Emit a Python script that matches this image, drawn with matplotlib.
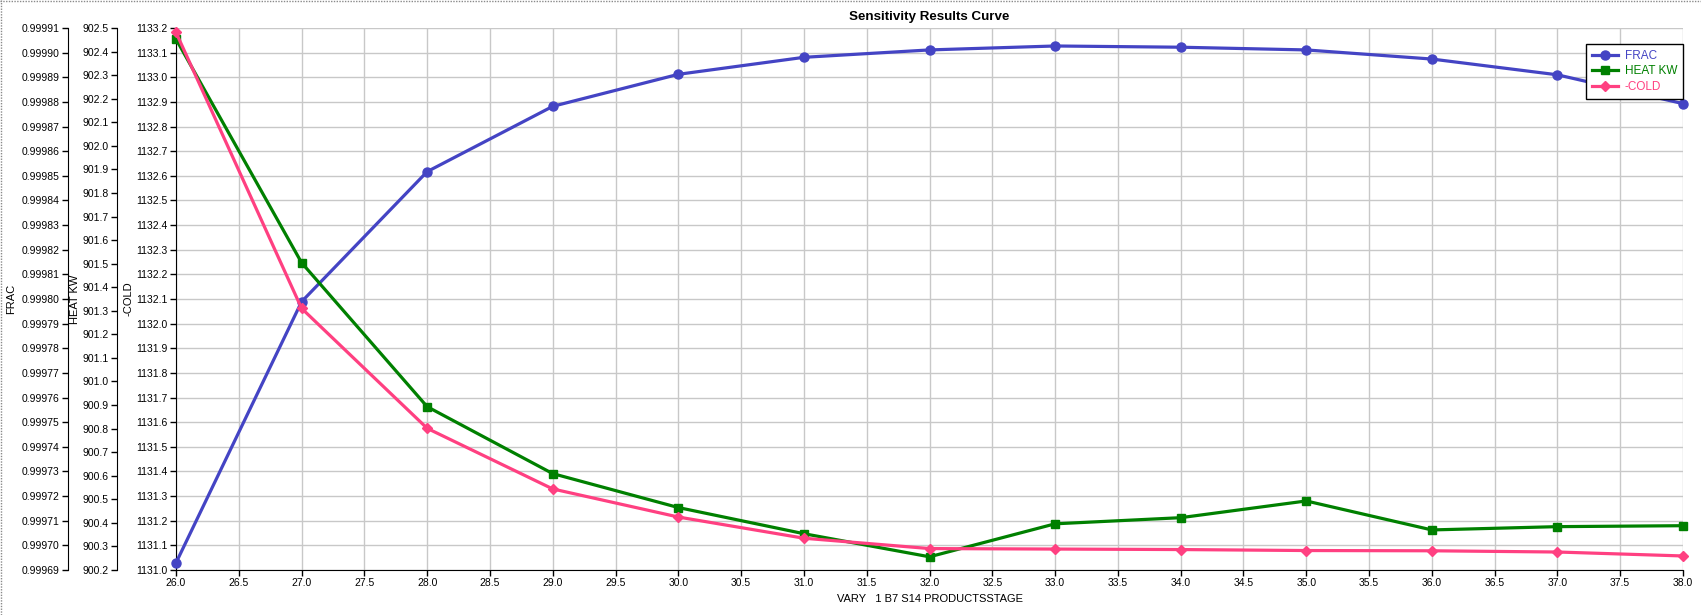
import numpy as np
import matplotlib
matplotlib.use('Agg')
import matplotlib.pyplot as plt
from matplotlib.lines import Line2D
from matplotlib.ticker import FormatStrFormatter

stage = [26, 27, 28, 29, 30, 31, 32, 33, 34, 35, 36, 37, 38]
frac = [0.9996929, 0.9997989, 0.9998517, 0.9998782, 0.9998912, 0.9998981, 0.9999011,
        0.9999027, 0.9999022, 0.9999011, 0.9998974, 0.9998910, 0.9998793]
heat_kw = [902.453, 901.504, 900.893, 900.609, 900.465, 900.354, 900.256,
           900.396, 900.422, 900.493, 900.370, 900.384, 900.388]
cold = [1133.182, 1132.062, 1131.575, 1131.329, 1131.215, 1131.129, 1131.087,
        1131.085, 1131.083, 1131.079, 1131.078, 1131.073, 1131.057]

plt.rcParams['font.family'] = ['Liberation Sans', 'DejaVu Sans']
plt.rcParams['font.size'] = 8

W, H = 1701, 615
left, right, top, bottom = 176, 1683, 28, 570
pw = right - left
fig = plt.figure(figsize=(W / 100, H / 100), dpi=100)
ax = fig.add_axes([left / W, 1 - bottom / H, pw / W, (bottom - top) / H])

# base axis: grid, x axis and the -COLD scale
ax.set_xlim(26, 38)
ax.set_ylim(1131.0, 1133.2)
ax.set_xticks(np.arange(26, 38.01, 0.5))
ax.set_yticks(np.arange(1131.0, 1133.21, 0.1))
ax.xaxis.set_major_formatter(FormatStrFormatter('%.1f'))
ax.yaxis.set_major_formatter(FormatStrFormatter('%.1f'))
ax.grid(True, color='#c8c8c8', lw=1)
ax.set_axisbelow(True)
for s in ['top', 'right']:
    ax.spines[s].set_visible(False)
ax.tick_params(length=4, width=1, pad=2, labelsize=7.5)
ax.set_ylabel('-COLD', labelpad=2)
ax.set_xlabel('VARY   1 B7 S14 PRODUCTSSTAGE', labelpad=4)
ax.set_title('Sensitivity Results Curve', fontweight='bold', pad=6)


def side_axis(offset_px):
    a = ax.twinx()
    a.yaxis.set_ticks_position('left')
    a.yaxis.set_label_position('left')
    a.spines['left'].set_position(('axes', -offset_px / pw))
    a.spines['left'].set_visible(True)
    for s in ['top', 'right', 'bottom']:
        a.spines[s].set_visible(False)
    a.tick_params(length=4, width=1, pad=2, labelsize=7.5)
    return a


ax_frac = side_axis(176 - 68)
ax_frac.set_ylim(0.99969, 0.99991)
ax_frac.set_yticks(np.arange(0.99969, 0.999915, 0.00001))
ax_frac.yaxis.set_major_formatter(FormatStrFormatter('%.5f'))
ax_frac.set_ylabel('FRAC', labelpad=4)

ax_heat = side_axis(176 - 117)
ax_heat.set_ylim(900.2, 902.5)
ax_heat.set_yticks(np.arange(900.2, 902.51, 0.1))
ax_heat.yaxis.set_major_formatter(FormatStrFormatter('%.1f'))
ax_heat.set_ylabel('HEAT KW', labelpad=2)

ax_cold = ax.twinx()
ax_cold.set_ylim(1131.0, 1133.2)
ax_cold.axis('off')

h1, = ax_frac.plot(stage, frac, color='#4444c4', lw=2.3, marker='o', ms=6.5,
                   label='FRAC', clip_on=False)
h2, = ax_heat.plot(stage, heat_kw, color='#008000', lw=2.3, marker='s', ms=6,
                   label='HEAT KW', clip_on=False)
h3, = ax_cold.plot(stage, cold, color='#ff4081', lw=2.3, marker='D', ms=5.5,
                   label='-COLD', clip_on=False)

leg = ax_cold.legend(handles=[h1, h2, h3], loc='upper right',
                     bbox_to_anchor=(1.0, 1 - 16 / (bottom - top)),
                     borderaxespad=0, fancybox=False, edgecolor='black',
                     framealpha=1, labelcolor='linecolor', handlelength=2.2,
                     borderpad=0.5, labelspacing=0.3, handletextpad=0.6,
                     fontsize=8.5)
leg.get_frame().set_linewidth(1)

# dotted window border
fig.add_artist(Line2D([0, 1], [0.998, 0.998], transform=fig.transFigure,
                      color='#8a8a8a', lw=1, ls=(0, (1, 1))))
fig.add_artist(Line2D([0.0006, 0.0006], [0, 1], transform=fig.transFigure,
                      color='#8a8a8a', lw=1, ls=(0, (1, 1))))

fig.savefig('out.png', dpi=100)
